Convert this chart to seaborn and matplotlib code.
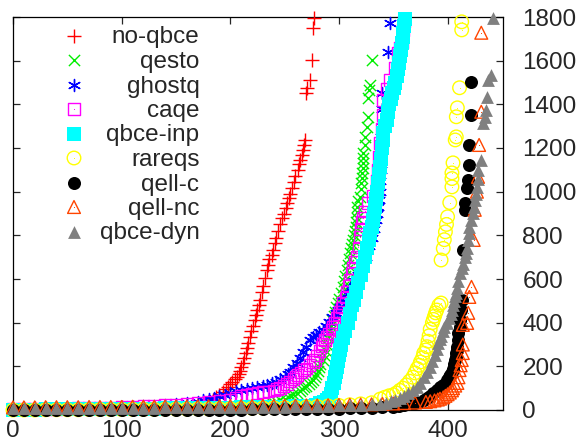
import matplotlib
matplotlib.use("Agg")
import matplotlib.pyplot as plt
import seaborn as sns

# ---- data (instances solved vs. time) ----
noqbce_x = [0, 10, 20, 30, 40, 50, 60, 70, 80, 90, 100, 110, 120, 130, 140, 150, 160, 170, 180,
            184, 187, 190, 193, 196, 198, 200, 202, 204, 206, 208, 209, 210, 212, 213, 214, 215, 216, 218,
            219, 221, 223, 224, 225, 226, 227, 229, 230, 232, 234, 235, 236, 238, 239, 241, 242, 244, 246,
            248, 249, 251, 252, 254, 255, 257, 259, 260, 262, 263, 264, 266, 267, 268, 269, 270, 271, 273,
            275, 276, 277]
noqbce_y = [6, 7, 7, 8, 8, 9, 9, 10, 10, 11, 12, 13, 14, 15, 17, 19, 22, 26, 33,
            48, 58, 68, 82, 95, 105, 118, 130, 140, 151, 165, 180, 195, 215, 238, 260, 285, 307, 335,
            360, 385, 412, 435, 460, 482, 504, 540, 570, 605, 642, 665, 690, 712, 733, 765, 790, 820, 850,
            878, 900, 925, 949, 970, 990, 1018, 1045, 1070, 1100, 1125, 1146, 1170, 1190, 1215, 1237, 1453, 1475, 1512,
            1604, 1751, 1797]

qesto_x = [0, 10, 20, 30, 40, 50, 60, 70, 80, 90, 100, 110, 120, 130, 140, 150, 160, 170, 180, 190,
           200, 210, 220, 230, 240, 243, 246, 250, 253, 256, 258, 261, 264, 266, 268, 270, 272, 274, 276,
           278, 279, 281, 282, 283, 285, 286, 287, 289, 290, 291, 292, 293, 294, 295, 296, 297, 299, 300,
           302, 304, 305, 306, 307, 308, 309, 310, 311, 312, 313, 314, 315, 316, 316, 317, 317, 317, 318,
           319, 320, 320, 321, 321, 322, 322, 322, 322, 324, 324, 326, 327, 327, 328, 329, 330]
qesto_y = [2, 2, 3, 3, 4, 4, 5, 5, 6, 6, 7, 7, 8, 9, 10, 11, 12, 13, 15, 17,
           19, 22, 25, 29, 34, 38, 44, 50, 58, 66, 72, 78, 88, 96, 104, 112, 120, 128, 137,
           152, 165, 180, 195, 212, 229, 250, 275, 300, 330, 345, 360, 385, 412, 432, 450, 470, 490, 510,
           535, 564, 590, 615, 640, 665, 690, 719, 740, 760, 780, 800, 820, 839, 860, 880, 905, 930, 955,
           976, 1010, 1040, 1062, 1086, 1110, 1132, 1155, 1178, 1214, 1251, 1297, 1343, 1430, 1467, 1489, 1604]

ghostq_x = [0, 10, 20, 30, 40, 50, 60, 70, 80, 90, 100, 110, 120, 130, 140, 150, 160, 170,
            175, 180, 185, 190, 195, 200, 205, 210, 215, 220, 225, 230, 234, 238, 242, 246, 250, 253, 255,
            258, 261, 264, 267, 270, 273, 276, 279, 282, 285, 288, 291, 294, 297, 299, 301, 304, 307, 310,
            314, 318, 322, 325, 328, 330, 332, 334, 335, 336, 337, 338, 338, 339, 339, 339, 339, 340, 340,
            340, 345, 347]
ghostq_y = [4, 5, 5, 6, 6, 7, 8, 9, 10, 11, 13, 15, 17, 20, 23, 27, 32, 38,
            45, 51, 57, 63, 70, 78, 85, 91, 96, 101, 106, 110, 115, 122, 130, 140, 152, 164, 176,
            195, 215, 240, 265, 290, 321, 335, 345, 355, 367, 385, 405, 426, 445, 460, 472, 500, 530, 560,
            590, 620, 660, 700, 750, 790, 830, 870, 900, 930, 960, 1000, 1050, 1100, 1150, 1200, 1250, 1300, 1380,
            1453, 1641, 1774]

caqe_x = [0, 10, 20, 30, 40, 50, 60, 70, 80, 90, 100, 110, 120, 130, 140, 150, 160, 170, 180, 190, 200,
          205, 210, 215, 220, 225, 230, 235, 240, 243, 246, 249, 252, 255, 258, 260, 262, 265, 268, 270,
          273, 276, 278, 280, 282, 284, 285, 287, 289, 291, 293, 294, 296, 298, 300, 301, 303, 304, 306,
          307, 309, 310, 312, 313, 315, 316, 318, 319, 320, 321, 322, 324, 327, 331, 335, 335, 336, 337,
          338, 339, 340, 340, 344, 347, 351, 354, 356, 358, 359, 360]
caqe_y = [4, 5, 5, 6, 6, 7, 8, 9, 10, 11, 13, 15, 17, 19, 22, 25, 28, 32, 36, 41, 47,
          56, 63, 69, 74, 78, 82, 85, 90, 95, 100, 110, 120, 130, 142, 152, 160, 172, 182, 190,
          205, 220, 230, 250, 270, 290, 305, 320, 335, 350, 368, 380, 400, 420, 438, 450, 470, 490, 515,
          540, 570, 596, 625, 650, 680, 700, 745, 793, 830, 860, 880, 910, 949, 980, 1008, 1050, 1100, 1160,
          1224, 1290, 1350, 1421, 1470, 1512, 1567, 1636, 1660, 1686, 1741, 1780]

qbceinp_x = [0, 10, 20, 30, 40, 50, 60, 70, 80, 90, 100, 110, 120, 130, 140, 150, 160, 170, 180, 190,
             200, 210, 220, 230, 240, 250, 260, 270, 275, 279, 283, 286, 289, 291, 293, 294, 295, 296, 297,
             298, 299, 300, 301, 302, 304, 306, 308, 310, 312, 314, 316, 318, 320, 322, 324, 326, 328, 329,
             330, 331, 332, 333, 334, 335, 336, 337, 338, 339, 340, 341, 341, 342, 344, 345, 346, 348, 349,
             351, 352, 353, 354, 355, 356, 357, 358, 359, 359, 360, 361]
qbceinp_y = [2, 2, 2, 3, 3, 3, 4, 4, 4, 5, 5, 5, 6, 6, 7, 7, 8, 8, 9, 10,
             11, 12, 13, 14, 15, 16, 17, 18, 20, 25, 30, 36, 44, 55, 75, 100, 125, 150, 175,
             197, 225, 250, 275, 300, 330, 360, 400, 440, 480, 504, 540, 580, 620, 660, 700, 740, 780, 811,
             840, 870, 900, 930, 965, 1000, 1040, 1080, 1115, 1150, 1200, 1235, 1269, 1300, 1330, 1365, 1400, 1425, 1450,
             1475, 1498, 1530, 1560, 1590, 1620, 1650, 1680, 1710, 1728, 1760, 1790]

rareqs_x = [0, 10, 20, 30, 40, 50, 60, 70, 80, 90, 100, 110, 120, 130, 140, 150, 160, 170, 180, 190,
            200, 210, 220, 230, 240, 250, 260, 270, 280, 290, 300, 310, 320, 330,
            338, 342, 346, 350, 353, 356, 359, 362, 365, 368, 370, 372, 374, 375, 377, 378, 380, 381, 382,
            383, 384, 386, 387, 388, 389, 390, 392, 394, 394, 396, 397, 398, 399, 400, 402, 404, 404, 404,
            405, 407, 408, 408, 409, 411, 413, 413]
rareqs_y = [0, 0, 0, 1, 1, 1, 1, 2, 2, 2, 2, 3, 3, 3, 4, 4, 4, 5, 5, 6,
            6, 7, 8, 9, 10, 11, 12, 14, 16, 18, 21, 24, 28, 33,
            50, 58, 65, 70, 78, 90, 100, 115, 132, 150, 170, 190, 205, 220, 240, 260, 275, 290, 315,
            340, 370, 400, 415, 430, 445, 458, 480, 490, 687, 740, 780, 816, 850, 885, 950, 1022, 1060, 1086,
            1132, 1237, 1251, 1343, 1384, 1476, 1741, 1778]

qellc_x = [0, 10, 20, 30, 40, 50, 60, 70, 80, 90, 100, 110, 120, 130, 140, 150, 160, 170, 180, 190,
           200, 210, 220, 230, 240, 250, 260, 270, 280, 290, 300, 310, 320, 330, 340, 350,
           355, 360, 365, 370, 374, 378, 381, 384, 387, 390, 393, 396, 399, 401, 402, 404, 405, 406, 407,
           408, 408, 409, 409, 410, 410, 411, 411, 412, 413, 414, 416, 416, 418, 419, 420, 420, 422, 422]
qellc_y = [0, 0, 0, 0, 0, 0, 0, 0, 0, 1, 1, 1, 1, 1, 1, 1, 2, 2, 2, 2,
           2, 2, 3, 3, 3, 3, 4, 4, 5, 5, 6, 7, 8, 10, 12, 14,
           17, 21, 26, 32, 38, 45, 55, 65, 78, 92, 105, 115, 137, 150, 160, 175, 190, 210, 229,
           245, 260, 275, 290, 320, 353, 380, 412, 458, 504, 733, 917, 949, 1017, 1054, 1123, 1214, 1352, 1503]

qellnc_x = [0, 10, 20, 30, 40, 50, 60, 70, 80, 90, 100, 110, 120, 130, 140, 150, 160, 170, 180, 190,
            200, 210, 220, 230, 240, 250, 260, 270, 280, 290, 300, 310, 320, 330, 340, 350, 360, 370, 380,
            384, 388, 391, 393, 396, 398, 400, 402, 404, 405, 407, 409, 410, 411, 412, 413, 414, 414, 414,
            418, 419, 420, 422, 424, 425, 427, 428, 429, 431, 431]
qellnc_y = [12, 12, 12, 13, 13, 13, 13, 14, 14, 14, 14, 15, 15, 15, 16, 16, 16, 17, 17, 17,
            18, 18, 18, 19, 19, 20, 20, 21, 21, 22, 23, 24, 25, 26, 28, 30, 32, 34, 37,
            40, 44, 48, 52, 58, 65, 72, 80, 90, 100, 112, 124, 150, 183, 205, 229, 261, 300, 390,
            399, 445, 518, 564, 779, 917, 1000, 1068, 1214, 1366, 1728]

qbcedyn_x = [0, 10, 20, 30, 40, 50, 60, 70, 80, 90, 100, 110, 120, 130, 140, 150, 160, 170, 180, 190,
             200, 210, 220, 230, 240, 250, 260, 270, 280, 290, 300, 310, 320, 330,
             338, 343, 348, 352, 356, 360, 364, 368, 372, 375, 378, 381, 384, 386, 388, 390, 391, 393, 394,
             396, 397, 399, 401, 403, 404, 405, 406, 407, 408, 409, 410, 411, 413, 414, 416, 417, 418, 419,
             420, 420, 422, 423, 424, 425, 426, 427, 428, 428, 431, 433, 434, 435, 436, 437, 440, 442]
qbcedyn_y = [8, 8, 8, 9, 9, 9, 9, 10, 10, 10, 10, 11, 11, 11, 12, 12, 12, 13, 13, 13,
             14, 14, 15, 15, 16, 16, 17, 18, 19, 20, 21, 22, 24, 26,
             28, 33, 39, 46, 55, 65, 78, 90, 105, 125, 150, 175, 197, 225, 250, 280, 307, 325, 340,
             360, 380, 400, 420, 440, 458, 480, 500, 520, 536, 560, 590, 628, 650, 670, 701, 720, 740, 779,
             810, 839, 870, 903, 930, 962, 990, 1022, 1060, 1100, 1146, 1315, 1340, 1375, 1435, 1512, 1535, 1797]

labels = ["no-qbce", "qesto", "ghostq", "caqe", "qbce-inp", "rareqs", "qell-c", "qell-nc", "qbce-dyn"]
colors = ["#ff0000", "#00ee00", "#0000ff", "#ff00ff", "#00ffff", "#ffff00", "#000000", "#ff4500", "#808080"]

sns.set_style("ticks")
plt.rcParams['font.family'] = ['Liberation Sans', 'DejaVu Sans']

fig = plt.figure(figsize=(5.8, 4.45), dpi=100)
ax = fig.add_axes([13 / 580, 1 - 410 / 445, 490 / 580, 393 / 445])

# (x, y, marker, size, kind)   kind: line / filled / open
series = [
    (noqbce_x, noqbce_y, "+", 95, "line"),
    (qesto_x, qesto_y, "x", 65, "line"),
    (ghostq_x, ghostq_y, (6, 2, 0), 75, "line"),
    (caqe_x, caqe_y, "s", 70, "open"),
    (qbceinp_x, qbceinp_y, "s", 90, "filled"),
    (rareqs_x, rareqs_y, "o", 95, "open"),
    (qellc_x, qellc_y, "o", 88, "filled"),
    (qellnc_x, qellnc_y, "^", 85, "open"),
    (qbcedyn_x, qbcedyn_y, "^", 85, "filled"),
]


def style(mk, size, kind, col):
    if kind == "line":
        return dict(marker=mk, s=size, color=col, linewidth=1.0)
    if kind == "filled":
        return dict(marker=mk, s=size, color=col, edgecolor=col, linewidth=0)
    return dict(marker=mk, s=size, color=col, facecolor="none", edgecolor=col, linewidth=1.0)


for (xs, ys, mk, size, kind), col in zip(series, colors):
    sns.scatterplot(x=xs, y=ys, ax=ax, clip_on=False, zorder=3, legend=False,
                    **style(mk, size, kind, col))
    if kind == "open":
        sns.scatterplot(x=xs, y=ys, marker=".", s=2, color=col, edgecolor=col,
                        linewidth=0, ax=ax, clip_on=False, zorder=3, legend=False)

ax.set_xlim(0, 451)
ax.set_ylim(0, 1800)
ax.set_xticks(range(0, 401, 100))
ax.set_yticks(range(0, 1801, 200))
ax.set_xlabel("")
ax.set_ylabel("")
for sp in ax.spines.values():
    sp.set_visible(True)
    sp.set_linewidth(0.9)
    sp.set_color("black")
ax.tick_params(axis="x", direction="in", top=True, bottom=True, length=5, width=0.9,
               labelsize=17.5, pad=7)
ax.tick_params(axis="y", direction="in", left=True, right=True, labelleft=False,
               labelright=True, length=5, width=0.9, labelsize=17.5, pad=14)

# gnuplot-style key: marker on the left, label right-aligned
key_x = (74 - 13) / 490
text_x = (199.5 - 13) / 490
for i, ((xs, ys, mk, size, kind), lab, col) in enumerate(zip(series, labels, colors)):
    yc = (410 - (35.5 + 24.5 * i)) / 393
    yb = (410 - (43.5 + 24.5 * i)) / 393
    ax.scatter([key_x], [yc], transform=ax.transAxes, clip_on=False, zorder=6,
               **style(mk, size, kind, col))
    if kind == "open":
        ax.scatter([key_x], [yc], transform=ax.transAxes, marker=".", s=2, color=col,
                   linewidth=0, clip_on=False, zorder=6)
    ax.text(text_x, yb, lab, transform=ax.transAxes, ha="right", va="baseline",
            fontsize=17.5, zorder=6)

fig.savefig("out.png", dpi=100)
